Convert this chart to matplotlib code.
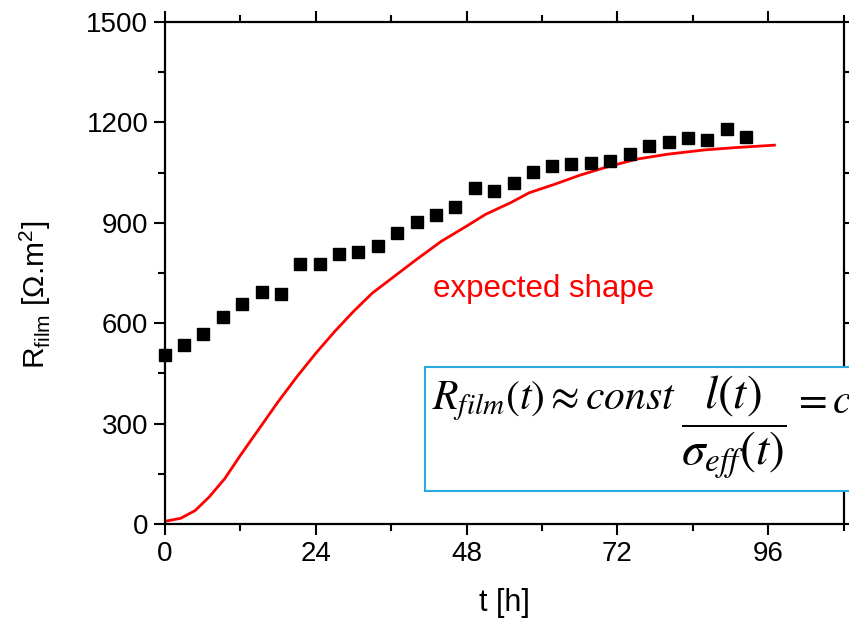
import matplotlib
matplotlib.use("Agg")
import matplotlib.pyplot as plt
from matplotlib.patches import Rectangle

plt.rcParams['font.family'] = ['Liberation Sans', 'DejaVu Sans']

# measured film resistance (squares)
t_meas = [0, 3.0, 6.1, 9.2, 12.3, 15.4, 18.5, 21.5, 24.6, 27.7, 30.8, 33.9, 37.0, 40.1,
          43.1, 46.2, 49.3, 52.3, 55.5, 58.6, 61.6, 64.7, 67.8, 70.9, 74.0, 77.1, 80.2,
          83.2, 86.3, 89.5, 92.5]
r_meas = [505, 535, 567, 618, 656, 694, 687, 777, 777, 806, 814, 831, 869, 901,
          922, 948, 1003, 995, 1020, 1051, 1071, 1076, 1079, 1085, 1105, 1129, 1141,
          1154, 1147, 1179, 1157]

# expected shape (red line)
t_exp = [0, 2.5, 4.8, 7.0, 9.5, 12.0, 15.0, 18.0, 21.0, 24.0, 27.0, 30.0, 33.0, 36.5,
         40.0, 44.0, 48.0, 51.0, 55.0, 58.0, 62.0, 66.0, 70.0, 75.0, 80.0, 86.0, 91.0, 97.0]
r_exp = [8, 17, 40, 80, 135, 205, 285, 365, 440, 510, 575, 635, 690, 740,
         790, 845, 890, 925, 960, 990, 1015, 1042, 1065, 1090, 1105, 1118, 1125, 1132]

x_ticks = [0, 24, 48, 72, 96]
y_ticks = [0, 300, 600, 900, 1200, 1500]

fig = plt.figure(figsize=(8.49, 6.22), dpi=100)
ax = fig.add_axes([0.1943, 0.1576, 0.7993, 0.807])

ax.plot(t_exp, r_exp, color='#ff0000', lw=2, zorder=2)
ax.plot(t_meas, r_meas, ls='none', marker='s', ms=8.5, color='black', zorder=3, clip_on=False)

ax.set_xlim(0, 108)
ax.set_ylim(0, 1500)
ax.set_xticks(x_ticks)
ax.set_yticks(y_ticks)
ax.set_xticks([12, 36, 60, 84, 108], minor=True)
ax.set_yticks([150, 450, 750, 1050, 1350], minor=True)
ax.tick_params(which='both', direction='out', top=True, right=True, width=1.5,
               labelsize=20, pad=4)
ax.tick_params(which='major', length=8)
ax.tick_params(which='minor', length=5)
for s in ax.spines.values():
    s.set_linewidth(1.6)

ax.set_xlabel('t [h]', fontsize=22)
ax.set_ylabel(r'R$_{\mathregular{film}}$ [Ω.m$^{\mathregular{2}}$]', fontsize=21.5)
ax.xaxis.set_label_coords(0.5, -0.128)
ax.yaxis.set_label_coords(-0.165, 0.456)

ax.text(42.7, 702, 'expected shape', color='#ff0000', fontsize=22.5, va='center', ha='left')

# formula box, running off the right edge of the figure
box = Rectangle((425 / 849, (622 - 491) / 622), 0.6, (491 - 367) / 622,
                transform=fig.transFigure, facecolor='white', edgecolor='#29abe2',
                lw=1.5, zorder=10, clip_on=False)
fig.patches.append(box)
fig.text(432 / 849, (622 - 409) / 622, r'$R_{film}(t) \approx const$',
         math_fontfamily='stix', fontsize=30, ha='left', va='baseline', zorder=11)
fig.text(681 / 849, (622 - 427) / 622, r'$\dfrac{l(t)}{\sigma_{eff}(t)}$',
         math_fontfamily='stix', fontsize=34, ha='left', va='center', zorder=11)
fig.text(792 / 849, (622 - 413) / 622, r'$= const$',
         math_fontfamily='stix', fontsize=30, ha='left', va='baseline', zorder=11)

fig.savefig('out.png', dpi=100)
